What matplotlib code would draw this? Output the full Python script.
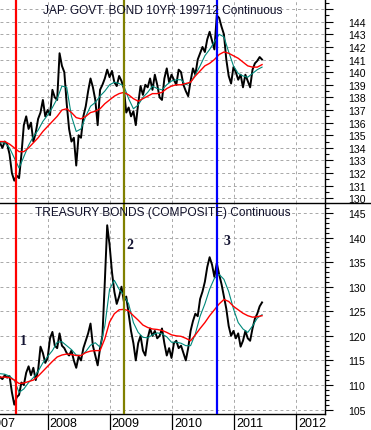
import numpy as np
import pandas as pd
import matplotlib
matplotlib.use('Agg')
import matplotlib.pyplot as plt
from matplotlib.lines import Line2D
from matplotlib.ticker import MultipleLocator, FixedLocator, NullFormatter

plt.rcParams['font.family'] = ['Liberation Sans', 'DejaVu Sans']

# --- data: two-weekly closes, 4-weekly moving averages ---
jgb_close = [134.4, 134.0, 134.5, 134.3, 133.5, 132.0, 131.4, 131.8, 131.6, 133.5,
             135.8, 136.5, 135.5, 136.0, 134.5, 135.2, 136.3, 136.8, 137.8, 136.5,
             137.0, 136.6, 138.6, 138.0, 137.8, 141.5, 140.5, 140.0, 137.5, 135.5,
             134.5, 134.8, 132.6, 135.0, 134.8, 136.5, 137.3, 138.5, 139.5, 138.8,
             137.8, 135.8, 138.6, 139.0, 139.5, 140.2, 139.6, 140.1, 139.2, 138.9,
             139.7, 139.3, 138.7, 136.8, 137.2, 136.5, 136.9, 135.8, 137.5, 138.9,
             138.2, 139.0, 138.8, 139.5, 138.6, 139.8, 139.0, 138.0, 137.8, 139.5,
             140.3, 139.2, 139.8, 139.4, 139.0, 140.2, 140.0, 139.0, 138.5, 138.1,
             139.3, 140.3, 139.8, 141.0, 141.5, 142.0, 141.6, 142.6, 143.2, 142.5,
             141.8, 144.5, 144.3, 143.6, 143.0, 141.0, 139.7, 139.1, 140.4, 140.0,
             139.4, 139.8, 138.8, 139.8, 139.3, 138.8, 140.2, 140.7, 140.9, 141.2, 141.0]

jgb_fast = [134.4, 134.4, 134.0, 133.2, 132.4, 133.3, 134.2, 134.9, 135.4, 136.1,
            136.6, 137.2, 137.9, 138.9, 138.8, 136.5, 135.3, 135.5, 136.5, 137.3,
            137.6, 138.1, 138.5, 139.0, 139.2, 139.1, 138.9, 137.9, 137.1, 137.4,
            138.0, 138.4, 138.9, 138.7, 138.6, 139.0, 139.3, 139.4, 139.4, 139.0,
            139.2, 139.8, 140.5, 141.3, 141.8, 142.4, 143.0, 142.8, 141.6, 140.5,
            139.9, 139.7, 139.6, 139.9, 140.2, 140.4]

jgb_slow = [134.5, 134.5, 134.3, 134.0, 133.7, 133.7, 134.0, 134.4, 134.8, 135.3,
            135.7, 136.1, 136.5, 137.0, 137.1, 136.8, 136.4, 136.3, 136.5, 136.8,
            136.9, 137.1, 137.5, 137.8, 138.1, 138.3, 138.4, 138.2, 137.9, 137.7,
            137.9, 138.1, 138.3, 138.3, 138.4, 138.7, 138.9, 139.0, 139.0, 139.1,
            139.2, 139.7, 140.1, 140.5, 140.7, 141.0, 141.4, 141.6, 141.5, 141.3,
            141.1, 140.8, 140.5, 140.4, 140.4, 140.6]

ust_close = [111.6, 111.2, 112.0, 111.5, 111.8, 108.5, 106.0, 107.5, 108.0, 110.5,
             110.0, 112.5, 113.8, 112.0, 113.5, 111.0, 113.0, 117.8, 116.5, 114.5,
             115.5, 119.5, 120.8, 118.0, 117.5, 120.5, 118.0, 117.5, 116.5, 116.0,
             117.0, 115.0, 113.5, 115.8, 115.0, 117.5, 119.0, 120.5, 122.5, 118.0,
             116.0, 114.0, 117.5, 120.0, 131.0, 142.5, 138.5, 133.0, 129.0, 126.5,
             128.0, 130.0, 127.0, 128.0, 124.5, 121.0, 118.5, 115.0, 118.5, 120.0,
             117.0, 116.0, 119.5, 121.5, 120.0, 121.0, 119.5, 120.0, 121.5, 118.5,
             116.0, 117.5, 115.5, 118.5, 119.0, 117.5, 118.0, 116.5, 115.0, 117.5,
             121.0, 123.0, 124.5, 124.0, 127.5, 129.0, 131.0, 134.0, 136.0, 134.5,
             132.0, 134.8, 132.5, 130.5, 128.0, 125.5, 122.0, 120.0, 121.0, 119.5,
             120.5, 117.8, 119.0, 121.0, 119.5, 119.0, 121.5, 123.5, 124.5, 126.0, 126.8]

ust_fast = [112.3, 112.2, 111.8, 111.0, 108.5, 109.2, 110.5, 111.5, 112.8, 114.5,
            115.8, 117.0, 118.7, 118.8, 118.0, 117.2, 116.1, 116.0, 116.8, 118.1,
            118.6, 117.7, 122.0, 129.5, 131.3, 129.5, 128.3, 126.5, 122.7, 120.7,
            119.7, 119.6, 120.2, 120.6, 120.4, 119.8, 118.7, 118.7, 118.5, 118.0,
            118.0, 120.4, 124.0, 126.5, 129.5, 131.7, 132.5, 131.5, 129.0, 125.5,
            122.7, 121.4, 120.7, 122.0, 123.6, 124.3]

ust_slow = [111.6, 111.6, 111.5, 111.0, 110.3, 110.4, 110.7, 111.0, 111.8, 112.8,
            113.8, 114.8, 115.7, 116.1, 116.3, 116.2, 116.0, 116.0, 116.6, 116.9,
            117.0, 117.0, 119.4, 122.8, 124.5, 125.3, 125.4, 125.1, 124.1, 123.2,
            122.2, 121.7, 121.4, 121.3, 121.1, 120.7, 120.2, 120.0, 119.9, 119.5,
            119.0, 120.2, 121.5, 122.7, 124.1, 125.3, 126.5, 127.4, 127.0, 126.0,
            125.3, 124.6, 124.1, 123.8, 123.9, 124.1]

start = '2007-03-26'
close_dates = pd.date_range(start, periods=len(jgb_close), freq='14D')
ma_dates = pd.date_range(start, periods=len(jgb_fast), freq='28D')

event_dates = pd.to_datetime(['2007-06-28', '2009-03-25', '2010-09-24'])
event_colors = ['#ff0000', '#808000', '#0000ff']
marks = ['1', '2', '3']
mark_dates = pd.to_datetime(['2007-08-08', '2009-04-28', '2010-11-18'])
mark_vals = [119.0, 138.5, 139.3]
years = [2007, 2008, 2009, 2010, 2011, 2012]

# --- figure ---
W, H = 371, 431
fig = plt.figure(figsize=(W / 100, H / 100), dpi=100)
right = 325 / W
ax1 = fig.add_axes([0, 1 - 204 / H, right, 204 / H])
ax2 = fig.add_axes([0, 1 - 415 / H, right, (415 - 204) / H])

xmin, xmax = pd.Timestamp('2007-03-26'), pd.Timestamp('2012-06-17')
year_ticks = pd.to_datetime(['%d-01-01' % y for y in years])

panels = [
    (ax1, jgb_close, jgb_fast, jgb_slow, (129.63, 145.8), 1, 0.5,
     list(range(130, 145)), 'JAP. GOVT. BOND 10YR 199712 Continuous'),
    (ax2, ust_close, ust_fast, ust_slow, (104.1, 147.03), 5, 1,
     list(range(105, 146, 5)), 'TREASURY BONDS (COMPOSITE) Continuous'),
]

for ax, close, fast, slow, ylim, major, minor, labels, title in panels:
    ax.plot(close_dates, close, color='black', lw=1.4, zorder=3)
    ax.plot(ma_dates, fast, color='#00897b', lw=0.8, zorder=4)
    ax.plot(ma_dates, slow, color='#ff0000', lw=1.0, zorder=4)
    for d, c in zip(event_dates, event_colors):
        ax.axvline(d, color=c, lw=1.6, zorder=5)

    ax.set_xlim(xmin, xmax)
    ax.set_ylim(*ylim)
    ax.yaxis.tick_right()
    ax.yaxis.set_major_locator(MultipleLocator(major))
    ax.yaxis.set_minor_locator(MultipleLocator(minor))
    ax.yaxis.set_major_formatter(plt.FuncFormatter(
        lambda v, p, labels=labels: '%d' % round(v) if round(v) in labels else ''))
    ax.tick_params(axis='y', which='major', direction='out', length=6, width=0.8,
                   pad=10.5, labelsize=7.6, colors='black')
    ax.tick_params(axis='y', which='minor', direction='out', length=3, width=0.8)
    ax.xaxis.set_major_locator(FixedLocator([matplotlib.dates.date2num(t) for t in year_ticks]))
    ax.xaxis.set_major_formatter(NullFormatter())
    ax.grid(True, which='major', color='#a8a8a8', ls=(0, (3, 3)), lw=0.7)
    for s in ['left', 'top']:
        ax.spines[s].set_visible(False)
    ax.spines['right'].set_linewidth(1.0)
    ax.text(0.5, 0.945 if ax is ax1 else 0.955, title, transform=ax.transAxes,
            ha='center', va='center', fontsize=8.6, color='#10102a', zorder=6)

ax1.spines['bottom'].set_visible(False)
ax1.tick_params(axis='x', length=0)
ax2.spines['bottom'].set_linewidth(1.0)
ax2.tick_params(axis='x', direction='out', length=11.5, width=0.9)

for y, t in zip(years, year_ticks):
    ax2.annotate(str(y), xy=(t, 0), xycoords=('data', 'axes fraction'),
                 xytext=(1.2, -6.8), textcoords='offset points',
                 ha='left', va='center', fontsize=9, annotation_clip=False)

for m, d, v in zip(marks, mark_dates, mark_vals):
    ax2.text(d, v, m, ha='center', va='center', fontsize=10, fontweight='bold',
             family='Liberation Serif', color='#141432', zorder=6)

fig.add_artist(Line2D([0, 1], [1 - 204 / H, 1 - 204 / H], color='black', lw=1.0,
                      transform=fig.transFigure))

fig.savefig('out.png', dpi=100)
